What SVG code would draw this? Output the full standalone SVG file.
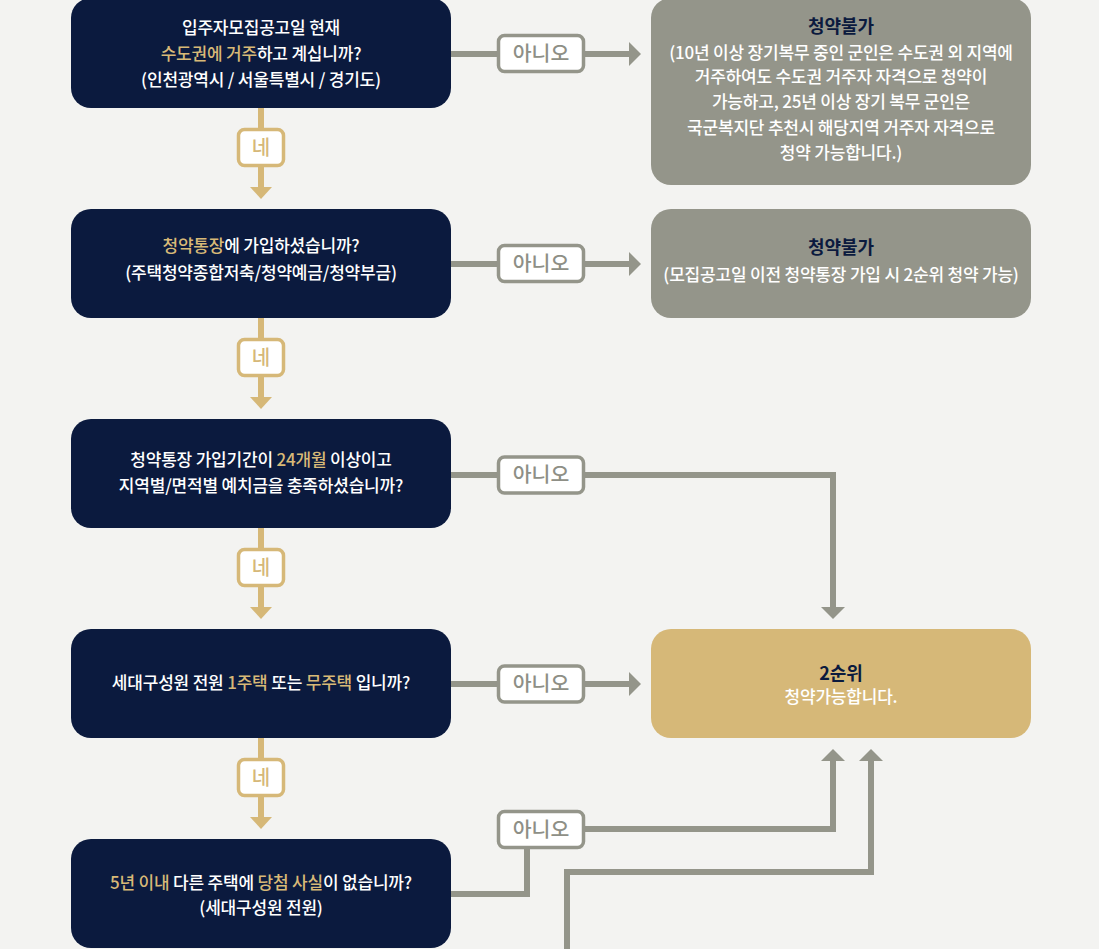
<svg xmlns="http://www.w3.org/2000/svg" width="1099" height="949" viewBox="0 0 1099 949">
<style>
text{font-family:"Noto Sans CJK KR","Noto Sans",sans-serif;text-anchor:middle}
.q{fill:#ffffff;font-size:17px;font-weight:500;letter-spacing:-0.2px}
.hl{fill:#d8b977}
.navy{fill:#0b1a3e}
.gray{fill:#94958a}
.gold{fill:#d6b878}
.t{fill:#0b1a3e;font-size:18px;font-weight:700}
.w{fill:#ffffff;font-size:17px;font-weight:500;letter-spacing:-0.2px}
.lblY{fill:#ffffff;stroke:#d6b878;stroke-width:3.5}
.lblN{fill:#ffffff;stroke:#94958a;stroke-width:3.5}
.ty{fill:#d6b878;font-size:20px;font-weight:500}
.tn{fill:#8e8f86;font-size:20.5px;font-weight:500}
.ly{stroke:#d6b878;stroke-width:6;fill:none}
.ln{stroke:#94958a;stroke-width:6;fill:none}
</style>
<defs>
<marker id="ah" markerUnits="userSpaceOnUse" markerWidth="14" markerHeight="24" refX="0" refY="12" orient="auto"><path d="M0,0 L12,12 L0,24 Z" fill="#94958a"/></marker>
<marker id="ahY" markerUnits="userSpaceOnUse" markerWidth="14" markerHeight="24" refX="0" refY="12" orient="auto"><path d="M0,1 L12,12 L0,23 Z" fill="#d6b878"/></marker>
</defs>
<rect width="1099" height="949" fill="#f3f3f1"/>

<g id="connectors">
  <g id="yes1"><line class="ly" x1="261" y1="108" x2="261" y2="130"/><line class="ly" x1="261" y1="165" x2="261" y2="187" marker-end="url(#ahY)"/><rect class="lblY" x="238.5" y="129.5" width="45" height="36" rx="6"/><text class="ty" x="261" y="154.5">네</text></g>
  <g id="yes2"><line class="ly" x1="261" y1="318" x2="261" y2="340"/><line class="ly" x1="261" y1="375" x2="261" y2="397" marker-end="url(#ahY)"/><rect class="lblY" x="238.5" y="339.5" width="45" height="36" rx="6"/><text class="ty" x="261" y="364.5">네</text></g>
  <g id="yes3"><line class="ly" x1="261" y1="528" x2="261" y2="550"/><line class="ly" x1="261" y1="585" x2="261" y2="607" marker-end="url(#ahY)"/><rect class="lblY" x="238.5" y="549.5" width="45" height="36" rx="6"/><text class="ty" x="261" y="574.5">네</text></g>
  <g id="yes4"><line class="ly" x1="261" y1="738" x2="261" y2="760"/><line class="ly" x1="261" y1="795" x2="261" y2="817" marker-end="url(#ahY)"/><rect class="lblY" x="238.5" y="759.5" width="45" height="36" rx="6"/><text class="ty" x="261" y="784.5">네</text></g>

  <g id="no1"><line class="ln" x1="451" y1="54" x2="629" y2="54" marker-end="url(#ah)"/><rect class="lblN" x="498.5" y="35.5" width="85" height="36" rx="6"/><text class="tn" x="541" y="60.5">아니오</text></g>
  <g id="no2"><line class="ln" x1="451" y1="264" x2="629" y2="264" marker-end="url(#ah)"/><rect class="lblN" x="498.5" y="245.5" width="85" height="36" rx="6"/><text class="tn" x="541" y="270.5">아니오</text></g>
  <g id="no3"><polyline class="ln" points="451,475 833,475 833,607" marker-end="url(#ah)"/><rect class="lblN" x="498.5" y="457" width="85" height="36" rx="6"/><text class="tn" x="541" y="482">아니오</text></g>
  <g id="no4"><line class="ln" x1="451" y1="684" x2="629" y2="684" marker-end="url(#ah)"/><rect class="lblN" x="498.5" y="666" width="85" height="36" rx="6"/><text class="tn" x="541" y="691">아니오</text></g>
  <g id="no5"><polyline class="ln" points="451,894 527,894 527,848"/><polyline class="ln" points="583,829 833,829 833,761" marker-end="url(#ah)"/><rect class="lblN" x="498.5" y="811.5" width="85" height="36" rx="6"/><text class="tn" x="541" y="836.5">아니오</text></g>
  <g id="extra"><polyline class="ln" points="567,952 567,872 871,872 871,761" marker-end="url(#ah)"/></g>
</g>

<g id="q1"><rect class="navy" x="71" y="-2" width="380" height="110" rx="20"/>
<text class="q" x="261" y="34">입주자모집공고일 현재</text>
<text class="q" x="261" y="60"><tspan class="hl">수도권에 거주</tspan>하고 계십니까?</text>
<text class="q" x="261" y="86">(인천광역시 / 서울특별시 / 경기도)</text></g>

<g id="r1"><rect class="gray" x="651" y="-2" width="380" height="187" rx="20"/>
<text class="t" x="841" y="33">청약불가</text>
<text class="w" x="841" y="59">(10년 이상 장기복무 중인 군인은 수도권 외 지역에</text>
<text class="w" x="841" y="83">거주하여도 수도권 거주자 자격으로 청약이</text>
<text class="w" x="841" y="108">가능하고, 25년 이상 장기 복무 군인은</text>
<text class="w" x="841" y="134">국군복지단 추천시 해당지역 거주자 자격으로</text>
<text class="w" x="841" y="159">청약 가능합니다.)</text></g>

<g id="q2"><rect class="navy" x="71" y="209" width="380" height="109" rx="20"/>
<text class="q" x="261" y="252"><tspan class="hl">청약통장</tspan>에 가입하셨습니까?</text>
<text class="q" x="261" y="279">(주택청약종합저축/청약예금/청약부금)</text></g>

<g id="r2"><rect class="gray" x="651" y="209" width="380" height="109" rx="20"/>
<text class="t" x="841" y="254">청약불가</text>
<text class="w" x="841" y="281">(모집공고일 이전 청약통장 가입 시 2순위 청약 가능)</text></g>

<g id="q3"><rect class="navy" x="71" y="419" width="380" height="109" rx="20"/>
<text class="q" x="261" y="466">청약통장 가입기간이 <tspan class="hl">24개월</tspan> 이상이고</text>
<text class="q" x="261" y="492">지역별/면적별 예치금을 충족하셨습니까?</text></g>

<g id="q4"><rect class="navy" x="71" y="629" width="380" height="109" rx="20"/>
<text class="q" x="261" y="689">세대구성원 전원 <tspan class="hl">1주택</tspan> 또는 <tspan class="hl">무주택</tspan> 입니까?</text></g>

<g id="r3"><rect class="gold" x="651" y="629" width="380" height="109" rx="20"/>
<text class="t" x="841" y="680">2순위</text>
<text class="w" x="841" y="703">청약가능합니다.</text></g>

<g id="q5"><rect class="navy" x="71" y="839" width="380" height="109" rx="20"/>
<text class="q" x="261" y="889"><tspan class="hl">5년 이내</tspan> 다른 주택에 <tspan class="hl">당첨 사실</tspan>이 없습니까?</text>
<text class="q" x="261" y="914">(세대구성원 전원)</text></g>
</svg>
